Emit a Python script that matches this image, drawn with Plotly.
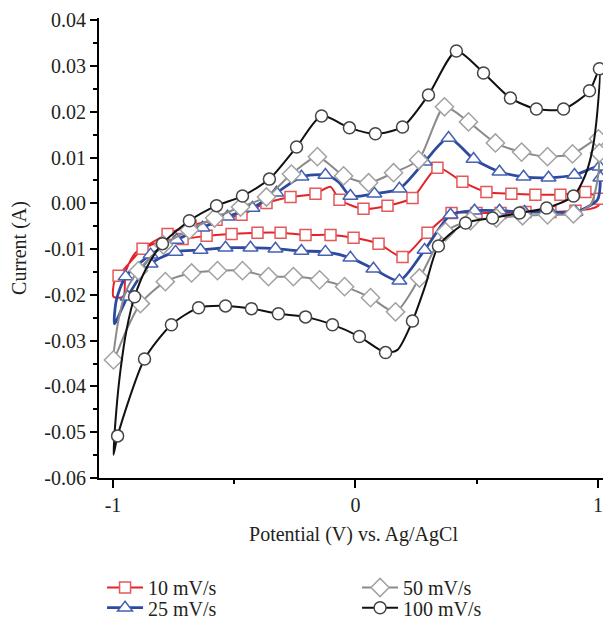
import plotly.graph_objects as go

# ---------------- data (potential V, current A) ----------------
# 10 mV/s loop: anodic branch (-1 -> +1) then cathodic branch (+1 -> -1); m = marker shown
r10_x = [-0.998, -0.994, -0.977, -0.928, -0.878, -0.775, -0.680, -0.573, -0.470, -0.367,
         -0.268, -0.165, -0.103, -0.066, 0.033, 0.132, 0.235, 0.338, 0.441, 0.540,
         0.643, 0.742, 0.845, 0.948, 1.006,
         1.002, 0.969, 0.907, 0.804, 0.701, 0.598, 0.499, 0.396, 0.297, 0.194,
         0.095, -0.008, -0.103, -0.206, -0.309, -0.404, -0.511, -0.614, -0.713, -0.816,
         -0.907, -0.948, -0.957, -0.998]
r10_y = [-0.0204, -0.0170, -0.0158, -0.0128, -0.0099, -0.0067, -0.0049, -0.0036, -0.0025, 0.0001,
         0.0014, 0.0021, 0.0036, 0.0008, -0.0012, -0.0005, 0.0012, 0.0078, 0.0047, 0.0025,
         0.0021, 0.0019, 0.0019, 0.0025, 0.0010,
         -0.0005, -0.0012, -0.0016, -0.0019, -0.0019, -0.0021, -0.0021, -0.0021, -0.0064, -0.0117,
         -0.0088, -0.0075, -0.0069, -0.0069, -0.0064, -0.0064, -0.0067, -0.0071, -0.0078, -0.0086,
         -0.0108, -0.0150, -0.0204, -0.0204]
r10_m = [0, 0, 1, 0, 1, 1, 1, 1, 1, 1,
         1, 1, 0, 1, 1, 1, 1, 1, 1, 1,
         1, 1, 1, 1, 1,
         0, 0, 1, 1, 1, 1, 1, 1, 1, 1,
         1, 1, 1, 1, 1, 1, 1, 1, 1, 0,
         0, 0, 0, 0]

# 25 mV/s
r25_x = [-0.994, -0.986, -0.948, -0.845, -0.738, -0.631, -0.528, -0.425, -0.326, -0.223,
         -0.124, -0.070, -0.021, 0.078, 0.181, 0.285, 0.384, 0.487, 0.594, 0.693,
         0.796, 0.903, 1.006, 1.010,
         0.998, 0.907, 0.804, 0.697, 0.594, 0.491, 0.392, 0.285, 0.181, 0.074,
         -0.021, -0.124, -0.223, -0.330, -0.433, -0.536, -0.639, -0.742, -0.845, -0.940,
         -0.994]
r25_y = [-0.0263, -0.0211, -0.0160, -0.0112, -0.0080, -0.0053, -0.0029, -0.0010, 0.0023, 0.0058,
         0.0062, 0.0047, 0.0016, 0.0021, 0.0032, 0.0091, 0.0143, 0.0097, 0.0069, 0.0058,
         0.0056, 0.0062, 0.0080, 0.0056,
         0.0008, -0.0019, -0.0019, -0.0019, -0.0016, -0.0016, -0.0025, -0.0102, -0.0169, -0.0143,
         -0.0119, -0.0106, -0.0104, -0.0099, -0.0097, -0.0097, -0.0102, -0.0106, -0.0132, -0.0204,
         -0.0263]
r25_m = [0, 0, 1, 1, 1, 1, 1, 1, 1, 1,
         1, 0, 1, 1, 1, 1, 1, 1, 1, 1,
         1, 1, 1, 1,
         0, 1, 1, 1, 1, 1, 1, 1, 1, 1,
         1, 1, 1, 1, 1, 1, 1, 1, 1, 1,
         0]

# 50 mV/s
r50_x = [-0.998, -0.977, -0.944, -0.895, -0.792, -0.685, -0.581, -0.474, -0.367, -0.264,
         -0.157, -0.049, 0.054, 0.157, 0.260, 0.367, 0.466, 0.577, 0.685, 0.792,
         0.895, 1.002, 1.006,
         0.998, 0.969, 0.899, 0.792, 0.689, 0.581, 0.474, 0.371, 0.264, 0.165,
         0.062, -0.045, -0.148, -0.256, -0.359, -0.466, -0.569, -0.676, -0.784, -0.887,
         -0.944, -0.998]
r50_y = [-0.0342, -0.0254, -0.0189, -0.0147, -0.0091, -0.0058, -0.0032, -0.0008, 0.0014, 0.0064,
         0.0102, 0.0060, 0.0045, 0.0067, 0.0095, 0.0211, 0.0178, 0.0132, 0.0112, 0.0102,
         0.0108, 0.0141, 0.0110,
         0.0051, -0.0003, -0.0023, -0.0025, -0.0027, -0.0032, -0.0038, -0.0062, -0.0163, -0.0237,
         -0.0206, -0.0182, -0.0167, -0.0160, -0.0160, -0.0147, -0.0147, -0.0152, -0.0171, -0.0219,
         -0.0276, -0.0342]
r50_m = [1, 0, 0, 1, 1, 1, 1, 1, 1, 1,
         1, 1, 1, 1, 1, 1, 1, 1, 1, 1,
         1, 1, 1,
         0, 0, 1, 1, 1, 1, 1, 1, 1, 1,
         1, 1, 1, 1, 1, 1, 1, 1, 1, 1,
         0, 0]

# 100 mV/s
r100_x = [-0.998, -0.986, -0.969, -0.944, -0.911, -0.862, -0.796, -0.685, -0.573, -0.466,
          -0.355, -0.243, -0.140, -0.025, 0.082, 0.194, 0.301, 0.416, 0.528, 0.639,
          0.746, 0.858, 0.965, 1.006,
          0.998, 0.977, 0.948, 0.899, 0.788, 0.676, 0.565, 0.454, 0.342, 0.289,
          0.235, 0.173, 0.124, 0.016, -0.095, -0.206, -0.318, -0.429, -0.536, -0.647,
          -0.759, -0.870, -0.981, -0.998]
r100_y = [-0.0549, -0.0451, -0.0364, -0.0276, -0.0204, -0.0141, -0.0088, -0.0038, -0.0005, 0.0016,
          0.0053, 0.0123, 0.0191, 0.0165, 0.0152, 0.0167, 0.0237, 0.0333, 0.0285, 0.0230,
          0.0206, 0.0206, 0.0246, 0.0294,
          0.0204, 0.0117, 0.0062, 0.0016, -0.0010, -0.0021, -0.0032, -0.0043, -0.0093, -0.0178,
          -0.0257, -0.0320, -0.0326, -0.0291, -0.0265, -0.0248, -0.0241, -0.0230, -0.0224, -0.0228,
          -0.0265, -0.0340, -0.0508, -0.0549]
r100_m = [0, 0, 0, 0, 1, 0, 1, 1, 1, 1,
          1, 1, 1, 1, 1, 1, 1, 1, 1, 1,
          1, 1, 1, 1,
          0, 0, 0, 1, 1, 1, 1, 1, 1, 0,
          1, 0, 1, 1, 1, 1, 1, 1, 1, 1,
          1, 1, 1, 0]

series_names = ["10 mV/s", "25 mV/s", "50 mV/s", "100 mV/s"]

y_tick_vals = [-0.06, -0.05, -0.04, -0.03, -0.02, -0.01, 0.00, 0.01, 0.02, 0.03, 0.04]
y_tick_text = ["-0.06", "-0.05", "-0.04", "-0.03", "-0.02", "-0.01", "0.00", "0.01", "0.02", "0.03", "0.04"]
x_tick_vals = [-1, 0, 1]
x_tick_text = ["-1", "0", "1"]

# ---------------- styles ----------------
FONT = "Liberation Serif"
TXT = "#231f20"
styles = [
    # data, line colour, marker colour, symbol, line width, marker size, legend id, legend pos
    ((r10_x, r10_y, r10_m), "#e2232a", "#e4585a", "square", 2.0, 11, "legend", (0.006, -0.238)),
    ((r25_x, r25_y, r25_m), "#2d4a9e", "#4660b4", "triangle-up", 2.8, 13, "legend2", (0.006, -0.282)),
    ((r50_x, r50_y, r50_m), "#8a8a8a", "#a2a2a2", "diamond", 2.0, 14, "legend3", (0.507, -0.238)),
    ((r100_x, r100_y, r100_m), "#111111", "#444444", "circle", 2.0, 12, "legend4", (0.507, -0.282)),
]

fig = go.Figure()
legends = {}
for name, ((xs, ys, ms), lc, mc, sym, lw, msz, lg, pos) in zip(series_names, styles):
    fig.add_trace(go.Scatter(
        x=xs, y=ys, mode="lines",
        line=dict(color=lc, width=lw, shape="spline", smoothing=0.7),
        showlegend=False, hoverinfo="skip"))
    mx = [x for x, m in zip(xs, ms) if m]
    my = [y for y, m in zip(ys, ms) if m]
    fig.add_trace(go.Scatter(
        x=mx, y=my, mode="markers",
        marker=dict(symbol=sym, size=msz, color="white", line=dict(color=mc, width=1.5)),
        showlegend=False, hoverinfo="skip"))
    fig.add_trace(go.Scatter(
        x=[None], y=[None], mode="lines+markers", name=name, legend=lg,
        line=dict(color=lc, width=lw),
        marker=dict(symbol=sym, size=msz, color="white", line=dict(color=mc, width=1.5))))
    legends[lg] = dict(x=pos[0], y=pos[1], xanchor="left", yanchor="middle",
                       orientation="v", itemwidth=36,
                       font=dict(family=FONT, size=20, color=TXT),
                       bgcolor="rgba(0,0,0,0)", borderwidth=0)

# the page body has an 8px default margin, so the figure is sized to end at the window edge
fig.update_layout(
    width=603, height=615,
    margin=dict(l=91, r=3, t=10, b=145, autoexpand=False),
    paper_bgcolor="white", plot_bgcolor="white",
    font=dict(family=FONT, size=20, color=TXT),
    showlegend=True,
    xaxis=dict(range=[-1.0577, 1.0413], showgrid=False, zeroline=False, automargin=False,
               showline=True, linecolor="black", linewidth=2,
               ticks="outside", ticklen=8, tickwidth=1.5, tickcolor="black",
               tickvals=x_tick_vals, ticktext=x_tick_text,
               minor=dict(tickvals=[-0.5, 0.5], ticks="outside", ticklen=4, tickwidth=1.5, tickcolor="black"),
               title=dict(text="Potential (V) vs. Ag/AgCl", standoff=12,
                          font=dict(family=FONT, size=20, color=TXT))),
    yaxis=dict(range=[-0.06, 0.0405], showgrid=False, zeroline=False, automargin=False,
               showline=True, linecolor="black", linewidth=2,
               ticks="outside", ticklen=7, tickwidth=1.5, tickcolor="black",
               tickvals=y_tick_vals, ticktext=y_tick_text,
               minor=dict(tickvals=[-0.055, -0.045, -0.035, -0.025, -0.015, -0.005, 0.005, 0.015, 0.025, 0.035],
                          ticks="outside", ticklen=4, tickwidth=1.5, tickcolor="black"),
               title=dict(text="Current (A)", standoff=14,
                          font=dict(family=FONT, size=20, color=TXT))),
    **legends,
)

fig.write_html("out.html")
